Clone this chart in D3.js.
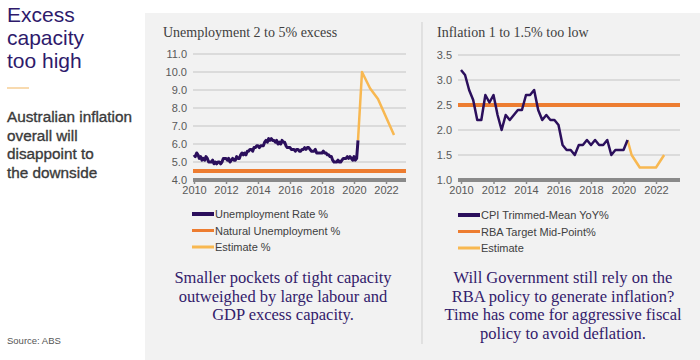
<!DOCTYPE html>
<html><head><meta charset="utf-8">
<script src="https://cdn.jsdelivr.net/npm/d3@7"></script>
<style>body{margin:0;background:#fff} svg{display:block}</style>
</head><body><svg id="c" width="700" height="360"></svg>
<script>
// ---------- DATA ----------
// Unemployment rate %, monthly from Jan 2010 to Apr 2020
const unemploymentRate = [
  5.4,5.3,5.5,5.4,5.2,5.3,5.1,5.2,5.1,5.3,5.2,5.0,
  5.0,5.0,5.1,4.9,5.0,4.9,5.0,5.0,4.9,5.0,5.2,5.2,
  5.2,5.1,5.2,5.0,5.1,5.2,5.1,5.1,5.3,5.2,5.2,5.4,
  5.5,5.4,5.5,5.4,5.6,5.6,5.7,5.7,5.6,5.8,5.8,5.9,
  5.9,5.8,5.9,5.9,5.9,6.1,6.2,6.1,6.3,6.2,6.3,6.2,
  6.2,6.1,6.2,6.0,6.1,6.0,6.2,6.1,6.1,5.9,5.8,5.8,
  5.8,5.7,5.7,5.7,5.6,5.7,5.7,5.6,5.6,5.7,5.7,5.8,
  5.7,5.8,5.8,5.7,5.6,5.6,5.6,5.7,5.5,5.5,5.5,5.5,
  5.5,5.6,5.5,5.5,5.4,5.4,5.3,5.3,5.1,5.0,5.0,5.0,
  5.1,5.0,5.0,5.1,5.2,5.2,5.2,5.3,5.2,5.3,5.2,5.1,
  5.3,5.1,5.2,6.2
];
const unemploymentStartYear = 2010;
const unempEstimateYears = [2020.25, 2020.5, 2021.0, 2021.5, 2022.5];
const unempEstimate = [6.2, 10.0, 9.1, 8.5, 6.5];
const naturalUnemployment = 4.5;

// CPI trimmed-mean YoY %, quarterly from 2010 Q1
const cpiTrimmedMean = [
  3.2,3.1,2.8,2.6, 2.2,2.2,2.7,2.55, 2.7,2.3,2.0,2.3,
  2.2,2.3,2.4,2.4, 2.7,2.7,2.8,2.4, 2.2,2.3,2.2,2.2,
  2.1,1.7,1.6,1.6, 1.5,1.7,1.7,1.8, 1.7,1.8,1.7,1.7,
  1.8,1.5,1.6,1.6, 1.6,1.8
];
const cpiStartYear = 2010;
const inflEstimateYears = [2020.25, 2020.5, 2021.0, 2022.0, 2022.5];
const inflEstimate = [1.8, 1.5, 1.25, 1.25, 1.5];
const rbaTargetMid = 2.5;

const yearTicks = [2010, 2012, 2014, 2016, 2018, 2020, 2022];
const unempTicks = [4, 5, 6, 7, 8, 9, 10, 11];
const inflTicks = [1.0, 1.5, 2.0, 2.5, 3.0, 3.5];

const unempLegend = ["Unemployment Rate %", "Natural Unemployment %", "Estimate %"];
const inflLegend = ["CPI Trimmed-Mean YoY%", "RBA Target Mid-Point%", "Estimate"];

// ---------- STYLE ----------
const PURPLE = "#2b0f5c", ORANGE = "#ed7d31", YELLOW = "#f8b851";
const SANS = "'Liberation Sans', Arial, sans-serif";
const SERIF = "'Liberation Serif', 'Times New Roman', serif";

const svg = d3.select("#c");
svg.append("rect").attr("x",0).attr("y",0).attr("width",700).attr("height",360).attr("fill","#fff");
svg.append("rect").attr("x",145).attr("y",13).attr("width",555).attr("height",347).attr("fill","#f2f2f2");
svg.append("line").attr("x1",422).attr("x2",422).attr("y1",22).attr("y2",344)
  .attr("stroke","#cfcfcf").attr("stroke-width",1);

// Left text panel
const head = svg.append("text").attr("font-family",SANS).attr("font-size",21).attr("fill","#2e1a6b");
["Excess","capacity","too high"].forEach((t,i)=>head.append("tspan").attr("x",7).attr("y",22+i*23).text(t));
svg.append("line").attr("x1",7).attr("x2",29).attr("y1",88).attr("y2",88).attr("stroke","#f3c27a").attr("stroke-width",1.2);
const sub = svg.append("text").attr("font-family",SANS).attr("font-size",15.3).attr("fill","#3a3a3a")
  .attr("stroke","#3a3a3a").attr("stroke-width",0.35);
["Australian inflation","overall will","disappoint to","the downside"].forEach((t,i)=>sub.append("tspan").attr("x",7).attr("y",122+i*18.6).text(t));
svg.append("text").attr("x",7).attr("y",344).attr("font-family",SANS).attr("font-size",9.5).attr("fill","#555").text("Source: ABS");

function panel(cfg){
  const g = svg.append("g");
  const x = d3.scaleLinear().domain([2010,2022]).range([cfg.x2010, cfg.x2022]);
  const y = d3.scaleLinear().domain([cfg.yTicks[0], cfg.yTicks[cfg.yTicks.length-1]]).range([180, cfg.yTop]);
  g.append("text").attr("x",cfg.titleX).attr("y",37).attr("font-family",SERIF).attr("font-size",14)
    .attr("fill","#404040").text(cfg.title);
  // gridlines
  g.selectAll("line.grid").data(cfg.yTicks.slice(1)).join("line")
    .attr("x1",cfg.gx0).attr("x2",cfg.gx1).attr("y1",d=>y(d)).attr("y2",d=>y(d))
    .attr("stroke","#c4c4c4").attr("stroke-width",1);
  // y axis labels
  const ya = g.append("g").attr("transform",`translate(${cfg.gx0-3},0)`)
    .call(d3.axisLeft(y).tickValues(cfg.yTicks).tickSize(0).tickPadding(3).tickFormat(d3.format(".1f")));
  ya.select(".domain").remove();
  ya.selectAll("text").attr("font-family",SANS).attr("font-size",11).attr("fill","#595959");
  // x axis
  const xa = g.append("g").attr("transform","translate(0,181)")
    .call(d3.axisBottom(x).tickValues(yearTicks).tickSize(3).tickPadding(2).tickFormat(d3.format("d")));
  xa.select(".domain").remove();
  xa.selectAll("line").attr("stroke","#8a8a8a").attr("stroke-width",1.5);
  xa.selectAll("text").attr("font-family",SANS).attr("font-size",11).attr("fill","#595959");
  g.append("line").attr("x1",cfg.gx0).attr("x2",cfg.gx1).attr("y1",y(cfg.yTicks[0])).attr("y2",y(cfg.yTicks[0]))
    .attr("stroke","#8a8a8a").attr("stroke-width",4);
  const line = d3.line().x(d=>x(d[0])).y(d=>y(d[1]));
  // reference line
  g.append("path").datum([[x.invert(cfg.gx0), cfg.ref],[x.invert(cfg.gx1), cfg.ref]])
    .attr("d",line).attr("stroke",ORANGE).attr("stroke-width",4).attr("fill","none");
  g.append("path").datum(cfg.estYears.map((t,i)=>[t,cfg.est[i]]))
    .attr("d",line).attr("stroke",YELLOW).attr("stroke-width",2.5).attr("fill","none").attr("stroke-linejoin","round");
  g.append("path").datum(cfg.series.map((v,i)=>[cfg.start + i/cfg.perYear, v]))
    .attr("d",line).attr("stroke",PURPLE).attr("stroke-width",cfg.sw).attr("fill","none").attr("stroke-linejoin","round");
  // legend
  const colors = [PURPLE, ORANGE, YELLOW], widths=[4,3,3];
  cfg.legend.forEach((t,i)=>{
    const yy = cfg.legY + i*16.5;
    g.append("line").attr("x1",cfg.legX).attr("x2",cfg.legX+22).attr("y1",yy).attr("y2",yy)
      .attr("stroke",colors[i]).attr("stroke-width",widths[i]);
    g.append("text").attr("x",cfg.legX+23).attr("y",yy+4).attr("font-family",SANS).attr("font-size",11)
      .attr("fill","#404040").text(t);
  });
  // paragraph
  const p = g.append("text").attr("font-family",SERIF).attr("font-size",16.5).attr("fill","#33206b").attr("text-anchor","middle");
  cfg.para.forEach((t,i)=>p.append("tspan").attr("x",cfg.paraX).attr("y",283+i*18.6).text(t));
}

panel({title:"Unemployment 2 to 5% excess", titleX:163, x2010:194, x2022:386, gx0:193, gx1:406, yTop:54,
  yTicks:unempTicks, ref:naturalUnemployment, estYears:unempEstimateYears, est:unempEstimate,
  series:unemploymentRate, start:unemploymentStartYear, perYear:12, sw:3,
  legend:unempLegend, legX:192, legY:214,
  para:["Smaller pockets of tight capacity","outweighed by large labour and","GDP excess capacity."], paraX:283});

panel({title:"Inflation 1 to 1.5% too low", titleX:437, x2010:461, x2022:656, gx0:458, gx1:680, yTop:55,
  yTicks:inflTicks, ref:rbaTargetMid, estYears:inflEstimateYears, est:inflEstimate,
  series:cpiTrimmedMean, start:cpiStartYear, perYear:4, sw:2.5,
  legend:inflLegend, legX:458, legY:215,
  para:["Will Government still rely on the","RBA policy to generate inflation?","Time has come for aggressive fiscal","policy to avoid deflation."], paraX:563});
</script></body></html>
